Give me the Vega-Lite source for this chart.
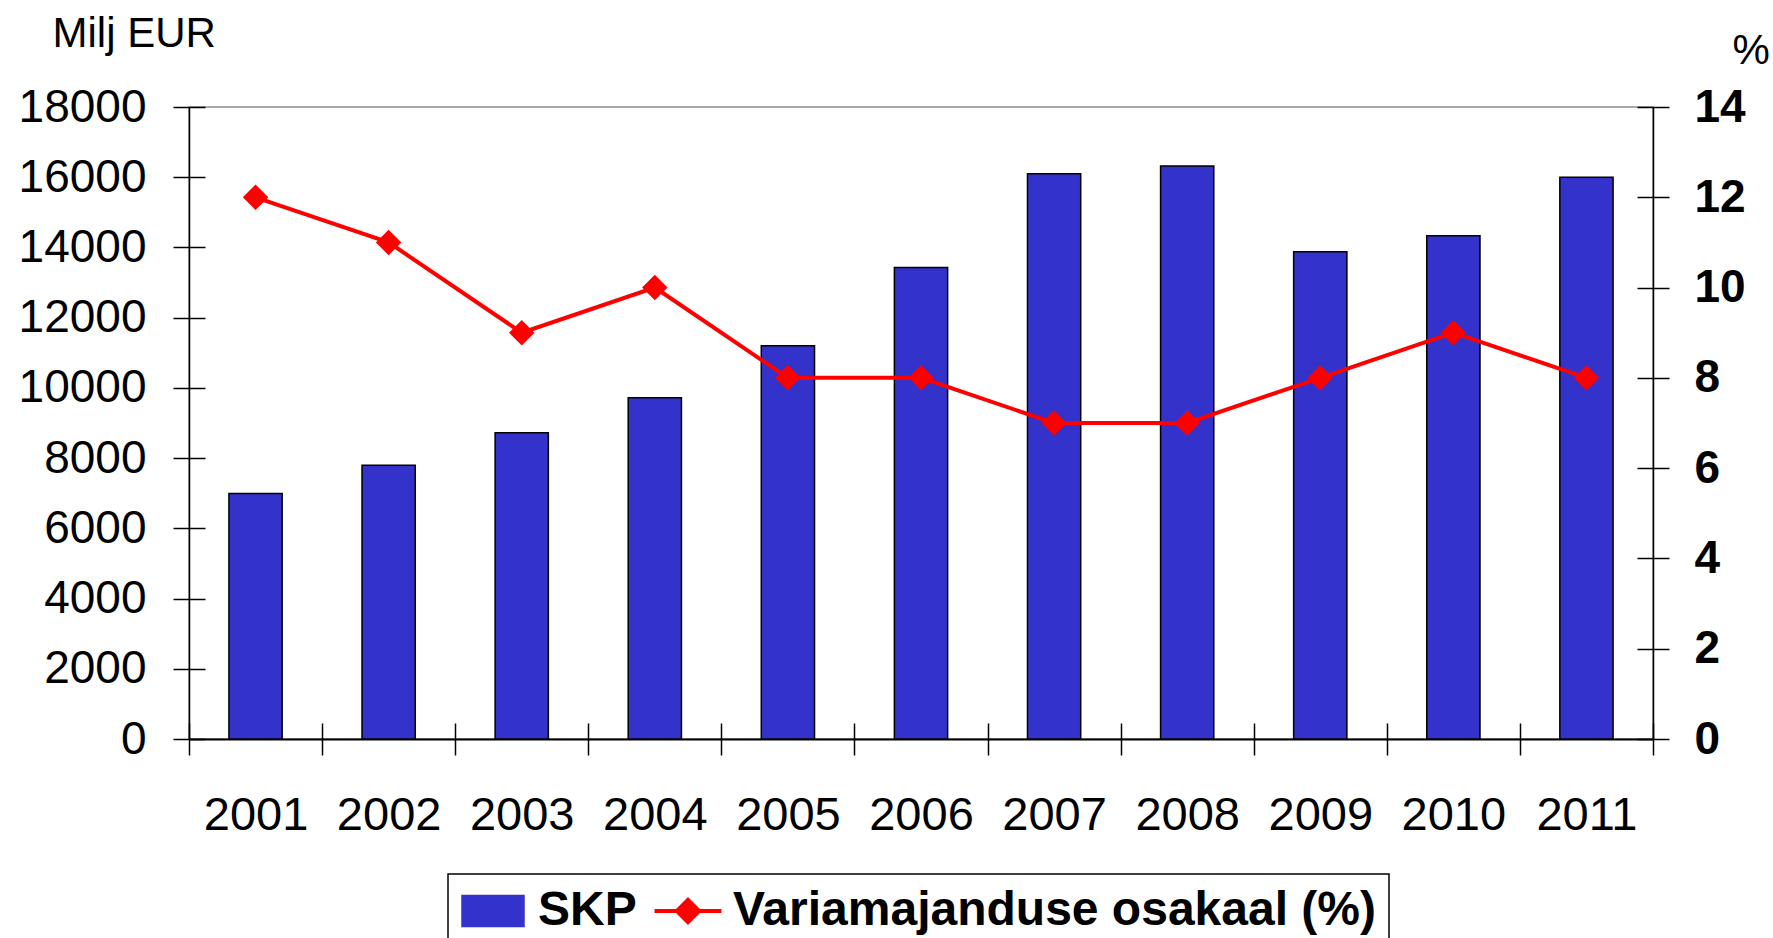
{
  "$schema": "https://vega.github.io/schema/vega-lite/v6.json",
  "width": 1464,
  "height": 632,
  "autosize": {"type": "none"},
  "padding": {"left": 189, "top": 107, "right": 120, "bottom": 199},
  "background": "white",
  "config": {
    "font": "Liberation Sans",
    "view": {"stroke": "#8c8c8c", "strokeWidth": 1.5},
    "axis": {
      "grid": false,
      "domainColor": "black",
      "tickColor": "black",
      "labelColor": "black",
      "titleColor": "black",
      "labelFont": "Liberation Sans",
      "titleFont": "Liberation Sans",
      "domainWidth": 1.5,
      "tickWidth": 1.5
    }
  },
  "data": {
    "values": [
      {"year": "2001", "skp": 6990, "osakaal": 12},
      {"year": "2002", "skp": 7800, "osakaal": 11},
      {"year": "2003", "skp": 8720, "osakaal": 9},
      {"year": "2004", "skp": 9720, "osakaal": 10},
      {"year": "2005", "skp": 11200, "osakaal": 8},
      {"year": "2006", "skp": 13430, "osakaal": 8},
      {"year": "2007", "skp": 16100, "osakaal": 7},
      {"year": "2008", "skp": 16320, "osakaal": 7},
      {"year": "2009", "skp": 13880, "osakaal": 8},
      {"year": "2010", "skp": 14330, "osakaal": 9},
      {"year": "2011", "skp": 16000, "osakaal": 8}
    ]
  },
  "encoding": {
    "x": {
      "field": "year",
      "type": "ordinal",
      "scale": {"paddingInner": 0, "paddingOuter": 0},
      "axis": {
        "title": null,
        "labelAngle": 0,
        "tickBand": "extent",
        "tickSize": 16,
        "labelPadding": 37,
        "labelFontSize": 47,
        "domainWidth": 2,
        "encoding": {"ticks": {"y": {"value": -16}}}
      }
    }
  },
  "layer": [
    {
      "mark": {"type": "bar", "stroke": "black", "strokeWidth": 1.5, "width": {"band": 0.4}},
      "encoding": {
        "y": {
          "field": "skp",
          "type": "quantitative",
          "scale": {"domain": [0, 18000], "nice": false},
          "axis": {
            "title": "Milj EUR",
            "titleAngle": 0,
            "titleX": -137,
            "titleY": -61,
            "titleAlign": "left",
            "titleBaseline": "alphabetic",
            "titleFontSize": 42,
            "titleFontWeight": "normal",
            "values": [0, 2000, 4000, 6000, 8000, 10000, 12000, 14000, 16000, 18000],
            "format": "d",
            "labelFontSize": 46,
            "tickSize": 16,
            "labelPadding": 27,
            "encoding": {"ticks": {"x": {"value": 16}}}
          }
        },
        "color": {
          "datum": "SKP",
          "type": "nominal",
          "scale": {"domain": ["SKP", "Variamajanduse osakaal (%)"], "range": ["#3333CC", "#FF0000"]},
          "legend": {
            "title": null,
            "orient": "none",
            "legendX": 259,
            "legendY": 767,
            "direction": "horizontal",
            "strokeColor": "black",
            "fillColor": "white",
            "padding": 13,
            "symbolSize": 3844,
            "symbolOffset": 8,
            "labelFont": "Liberation Sans",
            "labelFontSize": 48,
            "labelFontWeight": "bold",
            "labelColor": "black",
            "labelLimit": 2000,
            "labelOffset": 21,
            "columnPadding": 9,
            "encoding": {
              "legend": {"strokeWidth": {"value": 1.5}},
              "symbols": {
                "shape": {"value": {"expr": "datum.value === 'SKP' ? 'M-1,-0.5L1,-0.5L1,0.5L-1,0.5Z' : 'M-1.08,0L1.08,0M0,-0.36L0.36,0L0,0.36L-0.36,0Z'"}},
                "fill": {"value": {"expr": "datum.value === 'SKP' ? '#3333CC' : '#FF0000'"}},
                "stroke": {"value": {"expr": "datum.value === 'SKP' ? 'black' : '#FF0000'"}},
                "strokeWidth": {"value": {"expr": "datum.value === 'SKP' ? 1.5 : 4"}},
                "opacity": {"value": 1},
                "fillOpacity": {"value": 1}
              }
            }
          }
        }
      }
    },
    {
      "mark": {
        "type": "line",
        "strokeWidth": 4,
        "point": {"filled": true, "shape": "diamond", "size": 650}
      },
      "encoding": {
        "y": {
          "field": "osakaal",
          "type": "quantitative",
          "scale": {"domain": [0, 14], "nice": false},
          "axis": {
            "orient": "right",
            "title": "%",
            "titleAngle": 0,
            "titleX": 79,
            "titleY": -44,
            "titleAlign": "left",
            "titleBaseline": "alphabetic",
            "titleFontSize": 42,
            "titleFontWeight": "normal",
            "values": [0, 2, 4, 6, 8, 10, 12, 14],
            "labelFontSize": 46,
            "labelFontWeight": "bold",
            "tickSize": 16,
            "labelPadding": 25,
            "encoding": {"ticks": {"x": {"value": -16}}}
          }
        },
        "color": {"datum": "Variamajanduse osakaal (%)", "type": "nominal"}
      }
    }
  ],
  "resolve": {"scale": {"y": "independent"}}
}
